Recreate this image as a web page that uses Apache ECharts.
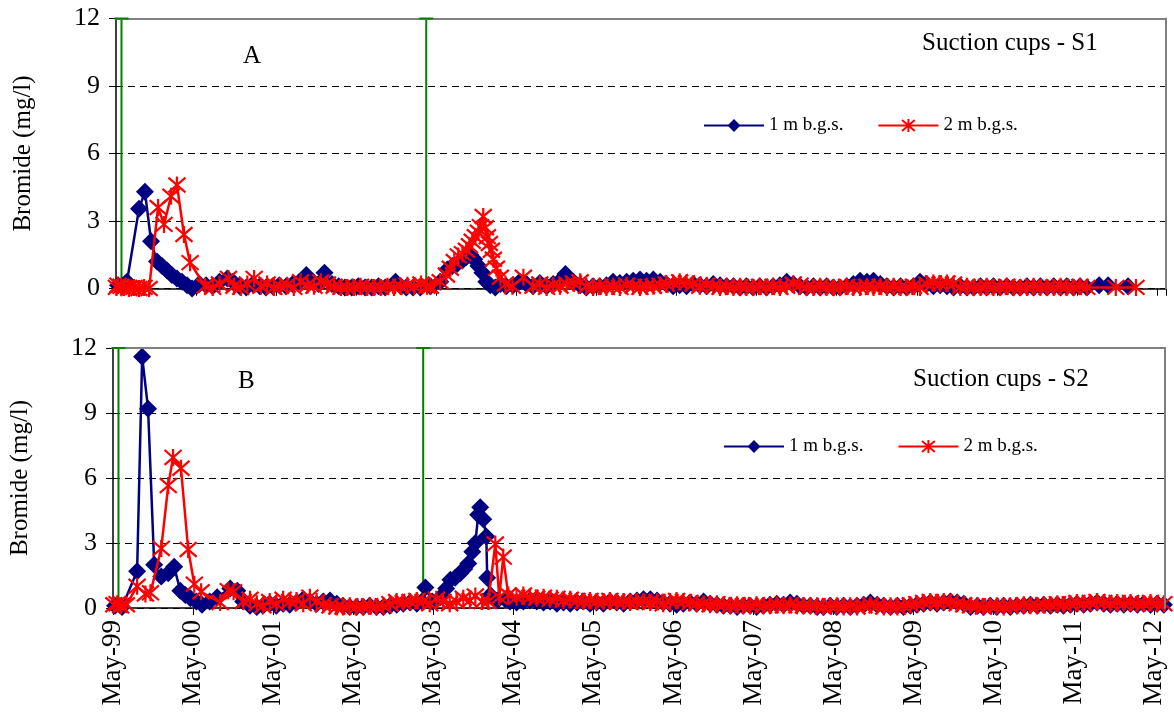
<!DOCTYPE html>
<html>
<head>
<meta charset="utf-8">
<title>Bromide in suction cups</title>
<script src="https://cdn.jsdelivr.net/npm/echarts@6/dist/echarts.min.js"></script>
<style>
  html, body { margin: 0; padding: 0; background: #fff; }
  #chart { width: 1174px; height: 715px; }
</style>
</head>
<body>
<div id="chart"></div>
<script>
// ---- Data -------------------------------------------------------------
// Tracer application dates (vertical green markers)
const tracerDates = ['1999-05-26', '2003-03-16'];

// Axis ticks
const yTicks = [0, 3, 6, 9, 12];
const seriesNames = ['1 m b.g.s.', '2 m b.g.s.'];

// S1, 1 m: irregular samples around the breakthrough peaks
const s1ShallowSamples = [
  ['1999-05-10',0.15],['1999-05-28',0.1],['1999-06-20',0.3],['1999-08-14',3.55],['1999-09-10',4.3],
  ['1999-10-08',2.1],['1999-11-04',1.2],['1999-11-27',1.0],['1999-12-20',0.8],['2000-01-11',0.6],
  ['2000-02-03',0.45],['2000-02-26',0.3],['2000-03-20',0.15],['2000-04-12',0.0],
  ['2000-05-15',0.2],['2000-06-15',0.15],['2000-07-15',0.1],['2000-08-15',0.3],['2000-09-20',0.45],
  ['2000-10-15',0.3],['2000-11-15',0.1],['2000-12-15',0.05],['2001-01-15',0.2],['2001-02-15',0.1],
  ['2001-03-15',0.05],['2001-04-15',0.1],['2001-05-15',0.15],['2001-06-15',0.1],['2001-07-15',0.2],
  ['2001-08-15',0.3],['2001-09-15',0.6],['2001-10-15',0.3],['2001-11-10',0.2],['2001-12-07',0.7],
  ['2002-01-10',0.2],['2002-02-10',0.1],['2002-03-10',0.05],['2002-04-10',0.05],['2002-05-10',0.1],
  ['2002-06-10',0.05],['2002-07-10',0.05],['2002-08-10',0.1],['2002-09-10',0.05],['2002-10-27',0.3],
  ['2002-11-20',0.1],['2002-12-15',0.05],['2003-01-15',0.05],['2003-02-17',0.05],['2003-04-04',0.1],
  ['2003-05-19',0.3],['2003-06-20',0.85],['2003-07-13',1.0],['2003-08-05',1.1],['2003-08-28',1.25],
  ['2003-09-15',1.4],['2003-10-03',1.5],['2003-10-21',1.3],['2003-11-09',1.0],['2003-11-27',0.7],
  ['2003-12-15',0.3],['2004-01-02',0.15],['2004-01-25',0.05],['2004-02-17',0.2],['2004-03-15',0.1],
  ['2004-04-15',0.15],['2004-05-15',0.3],['2004-06-15',0.2],['2004-07-15',0.1],['2004-08-15',0.25],
  ['2004-09-15',0.1],['2004-10-15',0.2],['2004-11-15',0.35],['2004-12-10',0.65]
];
// S1, 1 m: monthly sampling Jan 2005 - Jun 2011
const s1ShallowMonthlyStart = '2005-01';
const s1ShallowMonthly = [
  0.3,0.15,0.05,0.1,0.1,0.15,0.3,0.25,0.3,0.35,0.4,0.35,
  0.4,0.3,0.2,0.1,0.15,0.1,0.2,0.15,0.1,0.2,0.15,0.1,
  0.1,0.05,0.1,0.05,0.1,0.05,0.1,0.15,0.3,0.2,0.1,0.05,
  0.1,0.05,0.1,0.05,0.05,0.1,0.2,0.35,0.3,0.35,0.2,0.1,
  0.05,0.1,0.05,0.1,0.3,0.2,0.1,0.15,0.1,0.05,0.1,0.05,
  0.05,0.1,0.05,0.1,0.05,0.1,0.05,0.05,0.1,0.05,0.1,0.05,
  0.1,0.05,0.1,0.05,0.1,0.05
];
const s1ShallowTail = [['2011-08-10',0.15],['2011-09-20',0.15],['2011-12-20',0.1]];

// S1, 2 m
const s1DeepSamples = [
  ['1999-05-03',0.05],['1999-05-10',0.15],['1999-05-24',0.1],['1999-06-07',0.05],['1999-06-29',0.0],
  ['1999-07-22',0.05],['1999-08-14',0.0],['1999-09-06',0.05],['1999-09-29',0.0],['1999-11-09',3.6],
  ['1999-12-06',2.85],['2000-01-07',4.1],['2000-02-03',4.6],['2000-03-06',2.4],['2000-04-03',1.15],
  ['2000-06-10',0.1],['2000-07-15',0.05],['2000-08-15',0.2],['2000-09-25',0.45],['2000-10-20',0.1],
  ['2000-11-20',0.05],['2000-12-20',0.2],['2001-01-20',0.45],['2001-02-20',0.1],['2001-03-20',0.2],
  ['2001-04-20',0.05],['2001-05-20',0.1],['2001-06-20',0.15],['2001-07-20',0.05],['2001-08-20',0.3],
  ['2001-09-20',0.15],['2001-10-20',0.1],['2001-11-20',0.3],['2001-12-20',0.2],['2002-01-20',0.1],
  ['2002-02-20',0.05],['2002-03-20',0.05],['2002-04-20',0.05],['2002-05-20',0.1],['2002-06-20',0.05],
  ['2002-07-20',0.05],['2002-08-20',0.05],['2002-09-20',0.1],['2002-10-20',0.05],['2002-11-20',0.1],
  ['2002-12-20',0.15],['2003-01-20',0.1],['2003-02-20',0.2],['2003-03-20',0.1],['2003-04-04',0.1],
  ['2003-05-19',0.3],['2003-06-16',0.6],['2003-07-04',0.9],['2003-07-22',1.2],['2003-08-09',1.45],
  ['2003-08-28',1.55],['2003-09-15',1.7],['2003-09-29',1.9],['2003-10-12',2.1],['2003-10-26',2.3],
  ['2003-11-09',2.5],['2003-11-18',2.75],['2003-12-01',3.2],['2003-12-11',2.7],['2003-12-20',2.3],
  ['2003-12-29',2.0],['2004-01-07',1.7],['2004-01-16',1.3],['2004-01-30',0.9],['2004-02-17',0.5],
  ['2004-03-11',0.2],['2004-04-12',0.1],['2004-06-01',0.5]
];
const s1DeepMonthlyStart = '2004-07';
const s1DeepMonthly = [
  0.1,0.2,0.05,0.15,0.1,0.2,
  0.25,0.3,0.1,0.05,0.1,0.05,0.1,0.05,0.15,0.1,0.05,0.1,
  0.1,0.15,0.2,0.25,0.3,0.25,0.2,0.1,0.15,0.1,0.05,0.1,
  0.05,0.1,0.05,0.05,0.1,0.05,0.1,0.05,0.1,0.2,0.15,0.05,
  0.05,0.1,0.05,0.05,0.05,0.1,0.05,0.05,0.1,0.05,0.1,0.05,
  0.1,0.05,0.05,0.1,0.05,0.2,0.25,0.2,0.25,0.2,0.05,0.1,
  0.05,0.05,0.1,0.05,0.05,0.1,0.05,0.05,0.05,0.1,0.05,0.05,
  0.05,0.1,0.05,0.05,0.1,0.05
];
const s1DeepTail = [['2011-10-25',0.05],['2012-01-25',0.05]];

// S2, 1 m
const s2ShallowSamples = [
  ['1999-05-10',0.1],['1999-06-11',0.05],['1999-08-19',1.7],['1999-09-11',11.6],['1999-10-08',9.2],
  ['1999-11-05',2.0],['1999-12-07',1.45],['2000-01-08',1.6],['2000-02-04',1.9],['2000-03-03',0.8],
  ['2000-03-26',0.6],['2000-04-18',0.45],['2000-05-15',0.3],['2000-06-10',0.15],['2000-07-15',0.3],
  ['2000-08-18',0.5],['2000-10-17',0.9],['2000-11-18',0.8],['2000-12-15',0.3],['2001-01-15',0.1],
  ['2001-02-15',0.05],['2001-03-15',0.1],['2001-04-15',0.2],['2001-05-15',0.1],['2001-06-15',0.2],
  ['2001-07-15',0.15],['2001-08-15',0.25],['2001-09-15',0.4],['2001-10-15',0.3],['2001-11-15',0.2],
  ['2001-12-15',0.3],['2002-01-15',0.35],['2002-02-15',0.2],['2002-03-15',0.1],['2002-04-15',0.05],
  ['2002-05-15',0.05],['2002-06-15',0.05],['2002-07-15',0.1],['2002-08-15',0.05],['2002-09-15',0.05],
  ['2002-10-15',0.1],['2002-11-15',0.15],['2002-12-15',0.2],['2003-01-15',0.25],['2003-02-15',0.2],
  ['2003-03-10',0.3],['2003-03-26',0.95],['2003-04-26',0.3],['2003-06-02',0.5],['2003-06-29',0.9],
  ['2003-07-18',1.3],['2003-08-09',1.4],['2003-09-01',1.6],['2003-09-19',1.8],['2003-10-08',2.05],
  ['2003-10-26',2.6],['2003-11-09',3.0],['2003-11-22',4.3],['2003-12-01',4.65],['2003-12-15',4.1],
  ['2003-12-29',3.3],['2004-01-02',1.4],['2004-01-16',0.6],['2004-02-17',0.35],['2004-03-24',0.4]
];
const s2ShallowMonthlyStart = '2004-04';
const s2ShallowMonthly = [
  0.3,0.25,0.3,0.35,0.3,0.25,0.3,0.2,0.25,
  0.2,0.25,0.3,0.2,0.25,0.2,0.3,0.25,0.2,0.3,0.35,0.4,
  0.4,0.35,0.25,0.2,0.15,0.2,0.25,0.2,0.3,0.2,0.15,0.1,
  0.1,0.05,0.1,0.1,0.05,0.1,0.15,0.2,0.15,0.25,0.2,0.1,
  0.1,0.05,0.05,0.1,0.05,0.1,0.05,0.1,0.15,0.25,0.15,0.1,
  0.05,0.1,0.05,0.1,0.15,0.2,0.25,0.2,0.25,0.3,0.25,0.2,
  0.05,0.1,0.05,0.1,0.05,0.1,0.05,0.1,0.1,0.15,0.1,0.15,
  0.1,0.15,0.1,0.15,0.2,0.15,0.2,0.25,0.2,0.15,0.2,0.15,
  0.2,0.15,0.2,0.15,0.2,0.15
];

// S2, 2 m
const s2DeepSamples = [
  ['1999-05-05',0.15],['1999-05-20',0.2],['1999-06-05',0.1],['1999-07-01',0.15],['1999-08-19',1.0],
  ['1999-09-26',0.65],['1999-10-19',0.7],['1999-12-07',2.75],['2000-01-08',5.65],['2000-01-30',6.95],
  ['2000-03-06',6.45],['2000-04-08',2.7],['2000-05-06',1.1],['2000-06-06',0.75],['2000-09-01',0.25],
  ['2000-10-08',0.8],['2000-11-01',0.75],['2000-12-15',0.3],['2001-01-15',0.4],['2001-02-15',0.2],
  ['2001-03-15',0.1],['2001-04-15',0.3],['2001-05-15',0.2],['2001-06-15',0.4],['2001-07-15',0.3],
  ['2001-08-15',0.35],['2001-09-15',0.2],['2001-10-15',0.5],['2001-11-15',0.3],['2001-12-15',0.15],
  ['2002-01-15',0.1],['2002-02-15',0.05],['2002-03-15',0.05],['2002-04-15',0.1],['2002-05-15',0.05],
  ['2002-06-15',0.05],['2002-07-15',0.1],['2002-08-15',0.05],['2002-09-15',0.1],['2002-10-15',0.2],
  ['2002-11-15',0.3],['2002-12-15',0.25],['2003-01-15',0.3],['2003-02-15',0.35],['2003-03-15',0.3],
  ['2003-04-15',0.2],['2003-05-15',0.4],['2003-06-15',0.3],['2003-07-15',0.2],['2003-08-15',0.3],
  ['2003-09-15',0.45],['2003-10-15',0.35],['2003-11-09',0.55],['2003-12-10',0.3],['2004-01-07',0.3],
  ['2004-02-08',2.95],['2004-02-26',0.5],['2004-03-15',2.35],['2004-04-07',0.6]
];
const s2DeepMonthlyStart = '2004-05';
const s2DeepMonthly = [
  0.5,0.6,0.5,0.45,0.5,0.4,0.45,0.35,
  0.4,0.35,0.3,0.35,0.3,0.3,0.35,0.3,0.3,0.25,0.3,0.3,
  0.25,0.3,0.2,0.3,0.35,0.3,0.25,0.2,0.2,0.15,0.2,0.15,
  0.1,0.15,0.1,0.1,0.15,0.1,0.1,0.15,0.1,0.15,0.1,0.1,
  0.1,0.1,0.05,0.1,0.1,0.05,0.1,0.05,0.1,0.15,0.1,0.05,
  0.1,0.05,0.1,0.15,0.2,0.25,0.3,0.25,0.3,0.25,0.2,0.15,
  0.1,0.1,0.05,0.1,0.1,0.05,0.1,0.1,0.15,0.1,0.1,0.15,
  0.15,0.2,0.15,0.2,0.25,0.2,0.25,0.3,0.25,0.2,0.25,0.2,
  0.25,0.2,0.2,0.25,0.2,0.2
];

// ---- Helpers ----------------------------------------------------------
const DAY = 864e5;
const YEAR = 365.25 * DAY;
const ts = d => Date.parse(d);
const pairs = list => list.map(([d, v]) => [ts(d), v]);
function monthly(start, values) {
  const [y, m] = start.split('-').map(Number);
  return values.map((v, i) => {
    const k = m - 1 + i;
    return [Date.UTC(y + Math.floor(k / 12), k % 12, 15), v];
  });
}
const build = (samples, start, values, tail) =>
  pairs(samples).concat(monthly(start, values), pairs(tail || [])).sort((a, b) => a[0] - b[0]);

const SERIF = '"Liberation Serif", "Times New Roman", serif';
const NAVY = '#000080';
const RED = '#ff0000';
const GREEN = '#008000';
const GRAY = '#808080';
const STAR = 'path://M-1,-1L1,1M1,-1L-1,1M0,-1.15L0,1.15';

const xMin = Date.UTC(1999, 4, 1);
const xMaxTop = Date.UTC(2012, 5, 10);
const xMaxBottom = Date.UTC(2012, 5, 20);

function mayLabel(v) {
  const d = new Date(v + 15 * DAY);
  if (d.getUTCMonth() !== 4) return '';
  return 'May-' + String(d.getUTCFullYear()).slice(2);
}

// ---- Axes -------------------------------------------------------------
function mainX(grid, max, withLabels, tickInside) {
  return {
    type: 'value', gridIndex: grid, min: xMin, max: max, interval: YEAR,
    axisLine: { show: true, onZero: false, lineStyle: { color: '#000', width: 1.5 } },
    axisTick: { show: true, inside: !!tickInside, length: 7, lineStyle: { color: '#000', width: 1 } },
    axisLabel: withLabels ? {
      show: true, rotate: 90, margin: 12, color: '#000',
      fontFamily: SERIF, fontSize: 27, formatter: mayLabel, showMaxLabel: false
    } : { show: false },
    splitLine: { show: false }
  };
}
function frameX(grid, max) {
  return {
    type: 'value', gridIndex: grid, min: xMin, max: max, position: 'top', z: 10,
    axisLine: { show: true, onZero: false, lineStyle: { color: GRAY, width: 2 } },
    axisTick: { show: false }, axisLabel: { show: false }, splitLine: { show: false }
  };
}
function mainY(grid) {
  return {
    type: 'value', gridIndex: grid, min: yTicks[0], max: yTicks[yTicks.length - 1], interval: 3,
    name: 'Bromide (mg/l)', nameLocation: 'middle', nameGap: 80,
    nameTextStyle: { fontFamily: SERIF, fontSize: 25, color: '#000' },
    axisLine: { show: true, onZero: false, lineStyle: { color: '#000', width: 1.5 } },
    axisTick: { show: true, length: 7, lineStyle: { color: '#000' } },
    axisLabel: { color: '#000', fontFamily: SERIF, fontSize: 26, margin: 16 },
    splitLine: { show: true, lineStyle: { color: '#000', width: 1, type: [7, 5] } }
  };
}
function frameY(grid) {
  return {
    type: 'value', gridIndex: grid, min: 0, max: 12, position: 'right', z: 10,
    axisLine: { show: true, onZero: false, lineStyle: { color: GRAY, width: 2 } },
    axisTick: { show: false }, axisLabel: { show: false }, splitLine: { show: false }
  };
}

// ---- Series -----------------------------------------------------------
function shallow(data, xi, yi) {
  return {
    name: seriesNames[0], type: 'line', xAxisIndex: xi, yAxisIndex: yi, data: data,
    symbol: 'diamond', symbolSize: 18, z: 3, animation: false,
    lineStyle: { color: NAVY, width: 2.5 },
    itemStyle: { color: NAVY, borderColor: NAVY, borderWidth: 0 }
  };
}
function deep(data, xi, yi) {
  return {
    name: seriesNames[1], type: 'line', xAxisIndex: xi, yAxisIndex: yi, data: data,
    symbol: STAR, symbolSize: 17, z: 4, animation: false,
    lineStyle: { color: RED, width: 2.5 },
    itemStyle: { color: RED, borderColor: RED, borderWidth: 2.2 }
  };
}
// Green tracer markers: the vertical bar sits behind the data,
// its top cap sits over the plot frame.
function tracer(xi, yi, part) {
  return {
    type: 'custom', xAxisIndex: xi, yAxisIndex: yi, z: part === 'cap' ? 12 : 1,
    silent: true, animation: false,
    data: tracerDates.map(d => [ts(d), yTicks[yTicks.length - 1]]),
    renderItem: (params, api) => {
      const top = api.coord([api.value(0), api.value(1)]);
      const bottom = api.coord([api.value(0), 0]);
      const style = { stroke: GREEN, lineWidth: 2 };
      const shape = part === 'cap'
        ? { x1: top[0] - 7, y1: top[1], x2: top[0] + 7, y2: top[1] }
        : { x1: top[0], y1: top[1], x2: bottom[0], y2: bottom[1] };
      return { type: 'line', shape, style };
    }
  };
}

const legendBase = {
  data: seriesNames, itemWidth: 60, itemHeight: 16, itemGap: 34,
  textStyle: { fontFamily: SERIF, fontSize: 19, color: '#000' }
};
const labelFont = '25px ' + SERIF;

const option = {
  backgroundColor: '#fff',
  animation: false,
  grid: [
    { left: 116, top: 18.5, width: 1050, height: 270 },
    { left: 113, top: 348, width: 1052, height: 260 }
  ],
  xAxis: [
    mainX(0, xMaxTop, false, false),
    frameX(0, xMaxTop),
    Object.assign(mainX(0, xMaxTop, false, true), { axisLine: { show: false } }),
    mainX(1, xMaxBottom, true, false),
    frameX(1, xMaxBottom)
  ],
  yAxis: [mainY(0), frameY(0), mainY(1), frameY(1)],
  legend: [
    Object.assign({ left: 698, top: 111 }, legendBase),
    Object.assign({ left: 718, top: 432 }, legendBase)
  ],
  graphic: [
    { type: 'text', left: 243, top: 44, style: { text: 'A', font: labelFont, fill: '#000' } },
    { type: 'text', left: 922, top: 31, style: { text: 'Suction cups - S1', font: labelFont, fill: '#000' } },
    { type: 'text', left: 238, top: 369, style: { text: 'B', font: labelFont, fill: '#000' } },
    { type: 'text', left: 913, top: 367, style: { text: 'Suction cups - S2', font: labelFont, fill: '#000' } }
  ],
  series: [
    tracer(0, 0, 'bar'),
    tracer(0, 0, 'cap'),
    shallow(build(s1ShallowSamples, s1ShallowMonthlyStart, s1ShallowMonthly, s1ShallowTail), 0, 0),
    deep(build(s1DeepSamples, s1DeepMonthlyStart, s1DeepMonthly, s1DeepTail), 0, 0),
    tracer(3, 2, 'bar'),
    tracer(3, 2, 'cap'),
    shallow(build(s2ShallowSamples, s2ShallowMonthlyStart, s2ShallowMonthly), 3, 2),
    deep(build(s2DeepSamples, s2DeepMonthlyStart, s2DeepMonthly), 3, 2)
  ]
};

const chart = echarts.init(document.getElementById('chart'), null, { renderer: 'canvas' });
chart.setOption(option);
</script>
</body>
</html>
